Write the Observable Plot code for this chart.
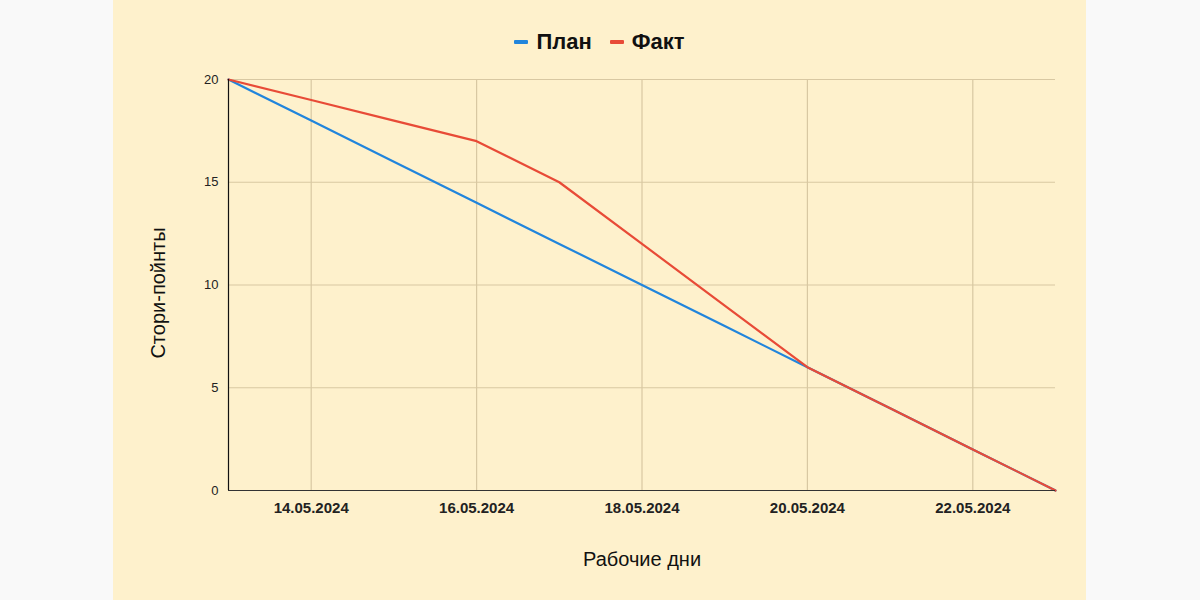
<!DOCTYPE html>
<html>
<head>
<meta charset="utf-8">
<script src="https://cdn.jsdelivr.net/npm/d3@7"></script>
<script src="https://cdn.jsdelivr.net/npm/@observablehq/plot@0.6"></script>
<style>
  html, body { margin: 0; padding: 0; background: #f9f9f9; width: 1200px; height: 600px; overflow: hidden; }
  #panel { position: absolute; left: 113px; top: 0; width: 973px; height: 600px; background: #fef1cc; font-family: "Liberation Sans", Arial, sans-serif; }
  #legend { position: absolute; left: 0; top: 0; width: 973px; height: 60px; display: flex; justify-content: center; align-items: center; gap: 0; font-weight: bold; font-size: 22px; color: #111; padding-top: 24px; box-sizing: border-box; line-height: 1; }
  .item { display: flex; align-items: center; margin: 0 9px; }
  .sw { width: 14px; height: 4px; border-radius: 1px; margin-right: 8px; }
  #chart { position: absolute; left: 0; top: 60px; }
</style>
</head>
<body>
<div id="panel">
  <div id="legend"></div>
  <div id="chart"></div>
</div>
<script>
const dates = ["2024-05-13","2024-05-14","2024-05-15","2024-05-16","2024-05-17","2024-05-18","2024-05-19","2024-05-20","2024-05-21","2024-05-22","2024-05-23"];
const plan = [20, 18, 16, 14, 12, 10, 8, 6, 4, 2, 0];
const fact = [20, 19, 18, 17, 15, 12, 9, 6, 4, 2, 0];
const seriesNames = ["План", "Факт"];
const seriesColors = ["#2185dc", "#e84b37"];
const xTicks = ["2024-05-14","2024-05-16","2024-05-18","2024-05-20","2024-05-22"];
const yTicks = [0, 5, 10, 15, 20];
const xLabel = "Рабочие дни";
const yLabel = "Стори-пойнты";

const parse = d3.utcParse("%Y-%m-%d");
const fmt = d3.utcFormat("%d.%m.%Y");

const rows = [];
dates.forEach((d, i) => {
  rows.push({date: parse(d), value: plan[i], series: seriesNames[0]});
});
dates.forEach((d, i) => {
  rows.push({date: parse(d), value: fact[i], series: seriesNames[1]});
});
const xt = xTicks.map(parse);

// legend
const legend = document.getElementById("legend");
seriesNames.forEach((n, i) => {
  const it = document.createElement("div");
  it.className = "item";
  const sw = document.createElement("div");
  sw.className = "sw";
  sw.style.background = seriesColors[i];
  it.appendChild(sw);
  const t = document.createElement("span");
  t.textContent = n;
  it.appendChild(t);
  legend.appendChild(it);
});

const chart = Plot.plot({
  width: 973,
  height: 540,
  marginTop: 19,
  marginBottom: 110,
  marginLeft: 115,
  marginRight: 31,
  style: { background: "transparent", fontFamily: "'Liberation Sans', Arial, sans-serif", color: "#222" },
  x: { type: "utc", domain: [parse(dates[0]), parse(dates[dates.length - 1])], ticks: xt, tickFormat: fmt, label: null, tickSize: 0 },
  y: { domain: [0, 20], ticks: yTicks, label: null, tickSize: 0 },
  color: { domain: seriesNames, range: seriesColors },
  marks: [
    Plot.ruleX(xt, { stroke: "#d8c8a2", strokeWidth: 1.2 }),
    Plot.ruleY(yTicks.filter(v => v > 0), { stroke: "#d8c8a2", strokeWidth: 1.2 }),
    Plot.axisY({ ticks: yTicks, tickSize: 0, tickPadding: 10, fontSize: 13, label: null }),
    Plot.axisX({ ticks: xt, tickFormat: fmt, tickSize: 0, tickPadding: 12, fontSize: 15, fontWeight: "bold", label: null }),
    Plot.line(rows, { x: "date", y: "value", z: "series", stroke: "series", strokeWidth: 2.2 }),
    Plot.ruleY([0], { stroke: "#333", strokeWidth: 1.2 }),
    Plot.ruleX([parse(dates[0])], { stroke: "#111", strokeWidth: 1.2 }),
    Plot.text([xLabel], { frameAnchor: "bottom", dy: 75, fontSize: 20, fill: "#111" }),
    Plot.text([yLabel], { frameAnchor: "left", textAnchor: "middle", dx: -70, dy: 8, rotate: -90, fontSize: 20, fill: "#111" })
  ]
});
document.getElementById("chart").appendChild(chart);
</script>
</body>
</html>
